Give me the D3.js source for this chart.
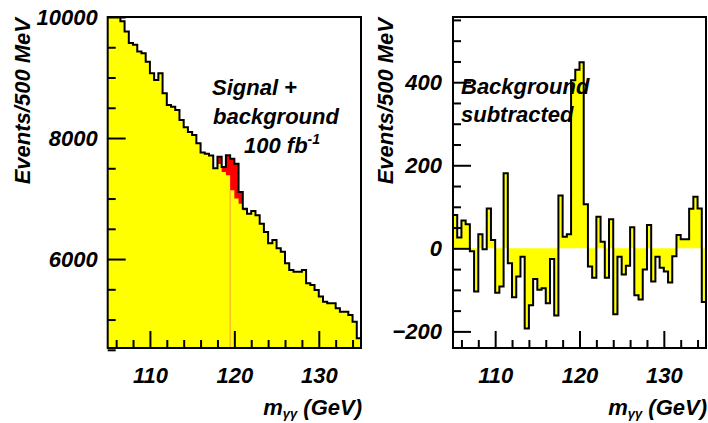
<!DOCTYPE html>
<html>
<head>
<meta charset="utf-8">
<script src="https://cdn.jsdelivr.net/npm/d3@7"></script>
<style>
  html, body { margin: 0; padding: 0; background: #fff; }
  svg { display: block; }
  text { font-family: "Liberation Sans", Arial, Helvetica, sans-serif; font-weight: bold; font-style: italic; fill: #000; }
</style>
</head>
<body>
<svg id="chart" width="708" height="423"></svg>
<script>
(function () {
// ---------- data ----------
// bin lower edges in GeV (60 bins of 0.5 GeV from 105 to 135)
const binLow = d3.range(60).map(i => 105 + 0.5 * i);
const binWidthGeV = 0.5;

// Left: signal + background (total) and background alone, events / 500 MeV
const totalCounts = [
  10200, 10150, 10050, 9930, 9760, 9570, 9540, 9430, 9400, 9260,
  9070, 8960, 9070, 8740, 8545, 8517, 8463, 8297, 8180, 8100,
  8050, 7912, 7760, 7740, 7710, 7500, 7690, 7520, 7714, 7657,
  7575, 7107, 6830, 6750, 6793, 6722, 6583, 6446, 6260, 6315,
  6177, 6120, 5930, 5820, 5790, 5790, 5820, 5600, 5570, 5490,
  5380, 5295, 5270, 5270, 5185, 5130, 5130, 5075, 4965, 4690
];
const backgroundCounts = [
  10200, 10150, 10050, 9930, 9760, 9570, 9540, 9430, 9400, 9260,
  9070, 8960, 9070, 8740, 8545, 8517, 8463, 8297, 8180, 8100,
  8050, 7912, 7760, 7740, 7710, 7500, 7570, 7440, 7383, 7135,
  7000, 6914, 6805, 6750, 6793, 6722, 6583, 6446, 6260, 6315,
  6177, 6120, 5930, 5820, 5790, 5790, 5820, 5600, 5570, 5490,
  5380, 5295, 5270, 5270, 5185, 5130, 5130, 5075, 4965, 4690
];

// Right: background subtracted
const subtractedCounts = [
  80, 26, 67, 58, -7, -104, 34, -2, 96, 20,
  -107, -92, 181, -36, -118, -68, -20, -193, -137, -74,
  -100, -96, -132, -26, -162, 127, 28, 34, 405, 430,
  448, 106, -44, -71, 76, 16, -71, 70, -159, -20,
  -63, -42, 51, -113, -123, -51, 56, -80, -20, -47,
  -56, -82, -19, 32, 22, 22, 95, 124, 96, -129
];

const xMajorTicks = [110, 120, 130];
const xMinorTicks = [106, 108, 112, 114, 116, 118, 122, 124, 126, 128, 132, 134];
const leftYMajor = [6000, 8000, 10000];
const leftYMinor = [4500, 5000, 5500, 6500, 7000, 7500, 8500, 9000, 9500];
const rightYMajor = [-200, 0, 200, 400];
const rightYMinor = [-150, -100, -50, 50, 100, 150, 250, 300, 350, 450, 500, 550];
const signalSeamEdge = 119.5;

// ---------- layout ----------
const svg = d3.select("#chart");
const FONT = 22;
const yTop = 17, yBot = 348;
const L = { x0: 107.7, x1: 361 };
const R = { x0: 453, x1: 706 };

const xL = d3.scaleLinear().domain([105, 135]).range([L.x0, L.x1]);
const yL = d3.scaleLinear().domain([4530, 10000]).range([yBot, yTop]);
const xR = d3.scaleLinear().domain([105, 135]).range([R.x0, R.x1]);
const yR = d3.scaleLinear().domain([-240, 557]).range([yBot, yTop]);

function stepPoints(values) {
  const pts = binLow.map((b, i) => [b, values[i]]);
  pts.push([binLow[binLow.length - 1] + binWidthGeV, values[values.length - 1]]);
  return pts;
}

const defs = svg.append("defs");
defs.append("clipPath").attr("id", "clipL").append("rect")
  .attr("x", L.x0).attr("y", yTop).attr("width", L.x1 - L.x0).attr("height", yBot - yTop);
defs.append("clipPath").attr("id", "clipR").append("rect")
  .attr("x", R.x0).attr("y", yTop).attr("width", R.x1 - R.x0).attr("height", yBot - yTop);

// ---------- left panel ----------
const gL = svg.append("g").attr("clip-path", "url(#clipL)");
const areaL = d3.area().curve(d3.curveStepAfter)
  .x(d => xL(d[0])).y0(yBot).y1(d => yL(d[1]));
const lineL = d3.line().curve(d3.curveStepAfter)
  .x(d => xL(d[0])).y(d => yL(d[1]));

gL.append("path").attr("d", areaL(stepPoints(totalCounts))).attr("fill", "#ff0000");
gL.append("path").attr("d", areaL(stepPoints(backgroundCounts))).attr("fill", "#ffff00");
const seamIdx = binLow.indexOf(signalSeamEdge);
gL.append("line")
  .attr("x1", xL(signalSeamEdge)).attr("x2", xL(signalSeamEdge))
  .attr("y1", yL(Math.min(backgroundCounts[seamIdx - 1], backgroundCounts[seamIdx])))
  .attr("y2", yBot)
  .attr("stroke", "#f5a040").attr("stroke-width", 1);
gL.append("path").attr("d", lineL(stepPoints(totalCounts)))
  .attr("fill", "none").attr("stroke", "#000").attr("stroke-width", 2);

// ---------- right panel ----------
const gR = svg.append("g").attr("clip-path", "url(#clipR)");
const areaR = d3.area().curve(d3.curveStepAfter)
  .x(d => xR(d[0])).y0(yR(0)).y1(d => yR(d[1]));
const lineR = d3.line().curve(d3.curveStepAfter)
  .x(d => xR(d[0])).y(d => yR(d[1]));
gR.append("path").attr("d", areaR(stepPoints(subtractedCounts))).attr("fill", "#ffff00");
gR.append("path").attr("d", lineR(stepPoints(subtractedCounts)))
  .attr("fill", "none").attr("stroke", "#000").attr("stroke-width", 2);

// ---------- axes ----------
function drawAxes(x, y, x0, x1, yMajor, yMinor, yPad) {
  const gy2 = svg.append("g").attr("transform", `translate(${x0},0)`)
    .call(d3.axisLeft(y).tickValues(yMinor).tickSize(-8).tickFormat(""));
  const gy1 = svg.append("g").attr("transform", `translate(${x0},0)`)
    .call(d3.axisLeft(y).tickValues(yMajor).tickSize(-18).tickPadding(yPad).tickFormat(d3.format("d")));
  const gx2 = svg.append("g").attr("transform", `translate(0,${yBot})`)
    .call(d3.axisBottom(x).tickValues(xMinorTicks).tickSize(-8).tickFormat(""));
  const gx1 = svg.append("g").attr("transform", `translate(0,${yBot})`)
    .call(d3.axisBottom(x).tickValues(xMajorTicks).tickSize(-17).tickPadding(19).tickFormat(d3.format("d")));
  [gy1, gy2, gx1, gx2].forEach(g => {
    g.select(".domain").remove();
    g.selectAll(".tick line").attr("stroke", "#000").attr("stroke-width", 2);
    g.selectAll(".tick text").attr("font-size", FONT)
      .attr("font-family", "Liberation Sans, Arial, sans-serif")
      .attr("font-weight", "bold").attr("font-style", "italic").attr("fill", "#000");
  });
  svg.append("rect").attr("x", x0).attr("y", yTop).attr("width", x1 - x0).attr("height", yBot - yTop)
    .attr("fill", "none").attr("stroke", "#000").attr("stroke-width", 2);
}
drawAxes(xL, yL, L.x0, L.x1, leftYMajor, leftYMinor, 10);
drawAxes(xR, yR, R.x0, R.x1, rightYMajor, rightYMinor, 11);

// ---------- titles ----------
function yTitle(xBase) {
  svg.append("text").attr("transform", `translate(${xBase},18) rotate(-90)`)
    .attr("text-anchor", "end").attr("font-size", FONT).text("Events/500 MeV");
}
yTitle(30);
yTitle(393);

function xTitle(xRight) {
  const t = svg.append("text").attr("x", xRight).attr("y", 415)
    .attr("text-anchor", "end").attr("font-size", FONT);
  t.append("tspan").text("m");
  t.append("tspan").attr("font-size", 13).attr("dy", 3).text("γγ");
  t.append("tspan").attr("dy", -3).text(" (GeV)");
}
xTitle(362);
xTitle(707);

// ---------- annotations ----------
svg.append("text").attr("x", 212).attr("y", 95).attr("font-size", FONT).text("Signal +");
svg.append("text").attr("x", 213).attr("y", 124).attr("font-size", FONT).text("background");
const lum = svg.append("text").attr("x", 244).attr("y", 153).attr("font-size", FONT);
lum.append("tspan").text("100 fb");
lum.append("tspan").attr("font-size", 14).attr("dy", -9).text("-1");

svg.append("text").attr("x", 461).attr("y", 94).attr("font-size", FONT).text("Background");
svg.append("text").attr("x", 461).attr("y", 122).attr("font-size", FONT).text("subtracted");
})();
</script>
</body>
</html>
